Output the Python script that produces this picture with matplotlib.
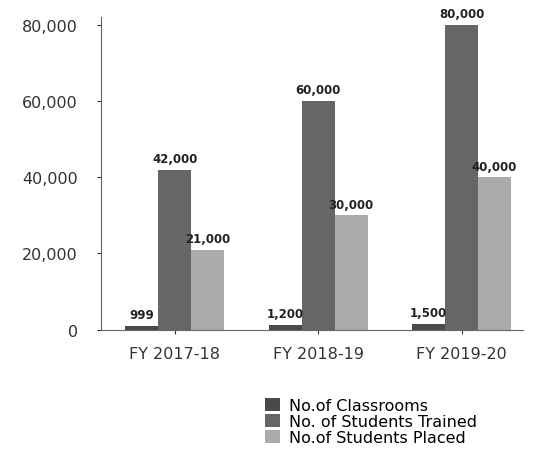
import matplotlib.pyplot as plt
import numpy as np

years = ["FY 2017-18", "FY 2018-19", "FY 2019-20"]
classrooms = [999, 1200, 1500]
trained = [42000, 60000, 80000]
placed = [21000, 30000, 40000]
series_names = ["No.of Classrooms", "No. of Students Trained", "No.of Students Placed"]
colors = ["#4a4a4a", "#666666", "#ababab"]

plt.rcParams['font.family'] = 'DejaVu Sans'

fig = plt.figure(figsize=(5.34, 4.56), dpi=100)
ax = fig.add_axes([0.19, 0.275, 0.79, 0.685])

x = np.arange(len(years))
w = 0.23
for i, (vals, name) in enumerate(zip([classrooms, trained, placed], series_names)):
    pos = x + (i - 1) * w
    bars = ax.bar(pos, vals, width=w, color=colors[i], label=name)
    for b, v in zip(bars, vals):
        ax.text(b.get_x() + b.get_width() / 2, v + 1200, f"{v:,}",
                ha='center', va='bottom', fontsize=8.5, fontweight='bold', color='#222222')

ax.set_ylim(0, 82000)
ax.set_xlim(-0.51, 2.43)
ax.set_yticks([0, 20000, 40000, 60000, 80000])
ax.set_yticklabels(["0", "20,000", "40,000", "60,000", "80,000"])
ax.set_xticks(x)
ax.set_xticklabels(years)
ax.tick_params(axis='both', labelsize=11.5, colors='#333333', length=3)
ax.tick_params(axis='y', pad=14)
ax.tick_params(axis='x', pad=9)
for s in ['top', 'right']:
    ax.spines[s].set_visible(False)
for s in ['left', 'bottom']:
    ax.spines[s].set_color('#666666')

fig.legend(loc='lower left', bbox_to_anchor=(0.47, -0.01), frameon=False,
           fontsize=11.5, handlelength=0.9, handleheight=0.9, labelspacing=0.05,
           handletextpad=0.6)

plt.savefig("out.png", dpi=100)
